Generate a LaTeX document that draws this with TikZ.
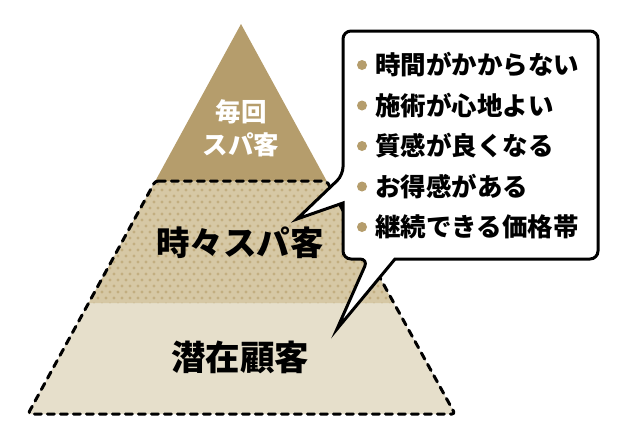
\documentclass[tikz,border=0pt]{standalone}
\usepackage{fontspec}
\newfontfamily\jpfont{Noto Sans CJK JP}[BoldFont={Noto Sans CJK JP Black}]
\definecolor{topgold}{RGB}{181,157,108}
\definecolor{midtan}{RGB}{214,200,165}
\definecolor{middot}{RGB}{194,174,128}
\definecolor{lowtan}{RGB}{230,223,203}
\begin{document}
\begin{tikzpicture}[x=1pt, y=-1pt, line join=round, line cap=round]
			\useasboundingbox (0,0) rectangle (618,432);
			\coordinate (A) at (241,24); \coordinate (BL) at (28,414); \coordinate (BR) at (455,414);
			\coordinate (ML) at (155.3,181); \coordinate (MR) at (326.7,181);
			\coordinate (LL) at (88.6,303); \coordinate (LR) at (393.4,303);
			% layers
			\fill[lowtan] (LL)--(LR)--(BR)--(BL)--cycle;
			\fill[midtan] (ML)--(MR)--(LR)--(LL)--cycle;
			\begin{scope}
				\clip (ML)--(MR)--(LR)--(LL)--cycle;
				\foreach \r in {0,...,21}
					\foreach \c in {0,...,39}
						\fill[middot] ({86+\c*8+mod(\r,2)*4},{184+\r*6}) circle (1.7);
			\end{scope}
			\fill[topgold] (A)--(MR)--(ML)--cycle;
			\draw[line width=3, dash pattern=on 7 off 6, rounded corners=3] (ML)--(MR)--(BR)--(BL)--cycle;
			% labels
			\node[text=white, align=center, font=\jpfont\bfseries\fontsize{25.5}{33}\selectfont] (top) at (241,128) {毎回\\スパ客};
			\node[font=\jpfont\bfseries\fontsize{33.5}{36}\selectfont] (mid) at (240,243) {時々スパ客};
			\node[font=\jpfont\bfseries\fontsize{34.5}{36}\selectfont] (low) at (240,357) {潜在顧客};
			% bubble
			\draw[line width=3, fill=white, line join=miter]
				(343,203) [rounded corners=8] -- (343,259) -- (368,259) [sharp corners] -- (337,329) -- (395,259)
				[rounded corners=8] -- (598,259) -- (598,31) -- (343,31) -- (343,175) [sharp corners] -- (297,219) -- cycle;
			\foreach \txt [count=\i] in {時間がかからない, 施術が心地よい, 質感が良くなる, お得感がある, 継続できる価格帯}
			{
				\fill[topgold] (362,{65+(\i-1)*40.5}) circle (5);
				\node[anchor=west, inner sep=0, font=\jpfont\bfseries\fontsize{25.5}{28}\selectfont] (item\i) at (375,{65+(\i-1)*40.5}) {\txt};
			}
		\end{tikzpicture}
\end{document}
